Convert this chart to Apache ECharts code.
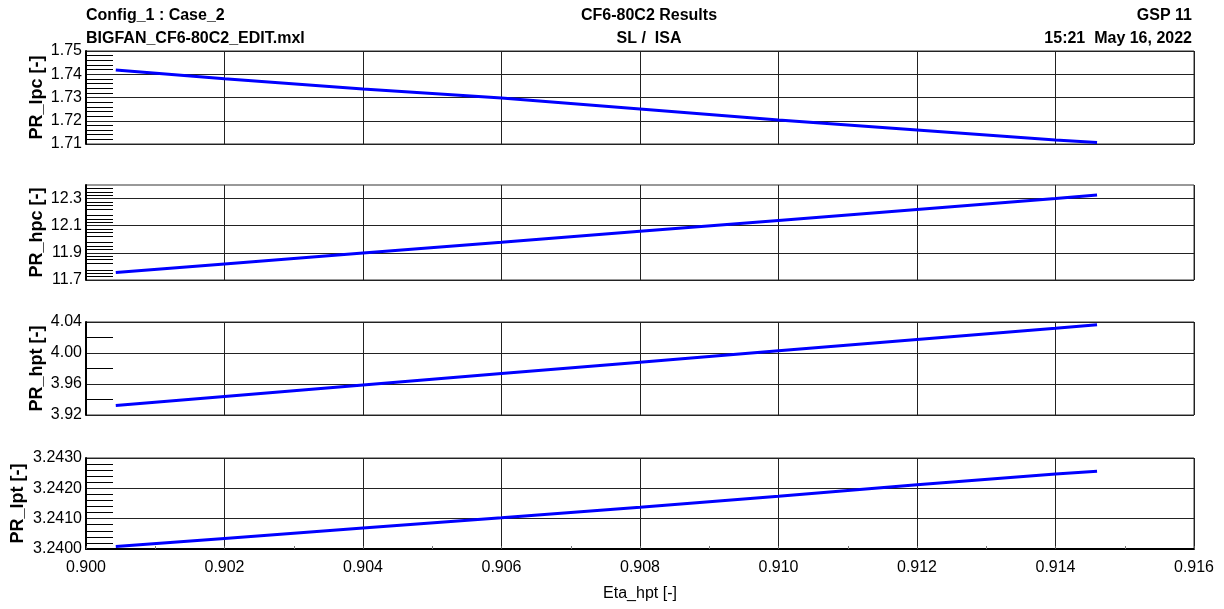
<!DOCTYPE html>
<html>
<head>
<meta charset="utf-8">
<script src="https://cdn.jsdelivr.net/npm/echarts@6/dist/echarts.min.js"></script>
<style>
html,body{margin:0;padding:0;background:#fff;}
#chart{width:1224px;height:609px;}
</style>
</head>
<body>
<div id="chart"></div>
<script>
// ---- data ----
const etaHpt = [0.90043, 0.902, 0.904, 0.906, 0.908, 0.910, 0.912, 0.914, 0.9146];
const prLpc  = [1.7418, 1.7381, 1.7337, 1.7298, 1.7251, 1.7203, 1.7160, 1.7117, 1.7106];
const prHpc  = [11.755, 11.818, 11.899, 11.978, 12.059, 12.139, 12.220, 12.300, 12.326];
const prHpt  = [3.9324, 3.944, 3.9587, 3.9734, 3.988, 4.0028, 4.0175, 4.032, 4.0365];
const prLpt  = [3.24008, 3.24035, 3.24069, 3.24103, 3.24138, 3.24174, 3.24212, 3.24247, 3.24256];

const yNames = ['PR_lpc [-]', 'PR_hpc [-]', 'PR_hpt [-]', 'PR_lpt [-]'];
const xName = 'Eta_hpt [-]';
const headerLeft = ['Config_1 : Case_2', 'BIGFAN_CF6-80C2_EDIT.mxl'];
const headerCenter = ['CF6-80C2 Results', 'SL /  ISA'];
const headerRight = ['GSP 11', '15:21  May 16, 2022'];

// y axis scale settings per panel
const yMin = [1.71, 11.7, 3.92, 3.240];
const yMax = [1.75, 12.4, 4.04, 3.243];
const yInterval = [0.01, 0.1, 0.04, 0.001];
const yDecimals = [2, 1, 2, 4];
const yMinorSplit = [5, 4, 2, 5];
// panel 2: labels / grid lines only every second tick (0.2)
const hpcLabelTicks = [11.7, 11.9, 12.1, 12.3];

const FONT = '"Liberation Sans", Arial, sans-serif';
const series = [prLpc, prHpc, prHpt, prLpt];

const gridPos = [
  {top: 51, height: 93, nameGap: 40},
  {top: 185, height: 95, nameGap: 40},
  {top: 322, height: 93, nameGap: 40},
  {top: 458, height: 91, nameGap: 59}
];

const grids = gridPos.map(g => ({
  left: 86, right: 30, top: g.top, height: g.height,
  show: true, borderColor: '#333', borderWidth: 1,
  containLabel: false, outerBoundsMode: 'none'
}));

const xAxes = gridPos.map((g, i) => ({
  type: 'value', gridIndex: i, min: 0.900, max: 0.916, interval: 0.002,
  name: i === 3 ? xName : '',
  nameLocation: 'middle', nameGap: 37,
  nameTextStyle: {fontFamily: FONT, fontSize: 16, color: '#000'},
  axisLine: {show: i === 3, onZero: false, lineStyle: {color: '#000', width: 2}},
  axisTick: {show: i === 3, inside: true, length: 3, lineStyle: {color: '#555'}},
  minorTick: {show: i === 3, splitNumber: 2, length: 3, lineStyle: {color: '#777'}},
  axisLabel: {show: i === 3, margin: 11, fontFamily: FONT, fontSize: 16, color: '#000',
    formatter: v => v.toFixed(3)},
  splitLine: {show: true, lineStyle: {color: '#222', width: 1}}
}));

const yAxes = gridPos.map((g, i) => ({
  type: 'value', gridIndex: i, min: yMin[i], max: yMax[i], interval: yInterval[i],
  name: yNames[i], nameLocation: 'middle', nameGap: g.nameGap, nameMoveOverlap: false,
  nameTextStyle: {fontFamily: FONT, fontSize: 18, fontWeight: 'bold', color: '#000'},
  axisLine: {show: true, onZero: false, lineStyle: {color: '#000', width: 2}},
  axisTick: {show: false, inside: true},
  minorTick: {show: true, splitNumber: yMinorSplit[i], length: 27, lineStyle: {color: '#000', width: 1}},
  axisLabel: {margin: 4, fontFamily: FONT, fontSize: 16, color: '#000',
    formatter: v => {
      if (i === 1) {
        const ok = hpcLabelTicks.some(t => Math.abs(t - v) < 1e-6);
        return ok ? v.toFixed(1) : '';
      }
      return v.toFixed(yDecimals[i]);
    }},
  splitLine: {show: true, lineStyle: {color: i === 1 ? ['#222', 'rgba(0,0,0,0)'] : '#222', width: 1}}
}));

const lineSeries = series.map((vals, i) => ({
  type: 'line', xAxisIndex: i, yAxisIndex: i,
  data: etaHpt.map((x, j) => [x, vals[j]]),
  showSymbol: false, symbol: 'none',
  lineStyle: {color: '#0000ff', width: 3},
  itemStyle: {color: '#0000ff'}
}));

const headStyle = (text, x, y, align) => ({
  type: 'text', x: x, y: y,
  style: {text: text, textAlign: align, textVerticalAlign: 'middle',
    font: 'bold 16px ' + FONT, fill: '#000'}
});

const graphics = [
  headStyle(headerLeft[0], 86, 16, 'left'),
  headStyle(headerLeft[1], 86, 39, 'left'),
  headStyle(headerCenter[0], 649, 16, 'center'),
  headStyle(headerCenter[1], 649, 39, 'center'),
  headStyle(headerRight[0], 1192, 16, 'right'),
  headStyle(headerRight[1], 1192, 39, 'right')
];

const chart = echarts.init(document.getElementById('chart'), null, {renderer: 'canvas'});
chart.setOption({
  animation: false,
  backgroundColor: '#fff',
  grid: grids,
  xAxis: xAxes,
  yAxis: yAxes,
  series: lineSeries,
  graphic: graphics
});
</script>
</body>
</html>
